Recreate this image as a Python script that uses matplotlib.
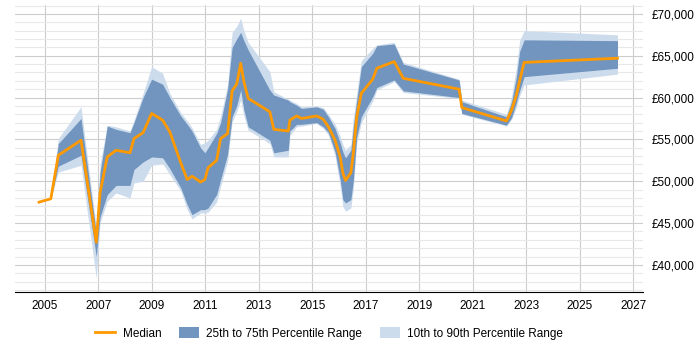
import numpy as np
import matplotlib.pyplot as plt
from matplotlib.ticker import MultipleLocator, FuncFormatter

plt.rcParams['font.family'] = ['Liberation Sans', 'DejaVu Sans']

# decimal year of each point
years = [2004.78, 2005.22, 2005.5, 2006.35, 2006.92, 2007.06, 2007.33, 2007.66, 2008.18, 2008.33,
         2008.67, 2008.99, 2009.4, 2009.67, 2010.08, 2010.32, 2010.5, 2010.82, 2010.98, 2011.1,
         2011.42, 2011.57, 2011.83, 2012.0, 2012.17, 2012.32, 2012.44, 2012.6, 2013.41, 2013.56,
         2014.1, 2014.16, 2014.41, 2014.6, 2015.16, 2015.41, 2015.6, 2015.85, 2016.04, 2016.14,
         2016.24, 2016.44, 2016.53, 2016.66, 2016.83, 2017.26, 2017.41, 2018.06, 2018.4, 2020.49,
         2020.59, 2022.26, 2022.45, 2022.63, 2022.75, 2022.92, 2026.41]

# salaries in thousands of pounds
median = [47.5, 47.9, 53.1, 54.9, 42.7, 48.6, 52.9, 53.7, 53.4, 55.1,
          55.8, 58.1, 57.3, 55.9, 52.2, 50.2, 50.6, 49.9, 50.2, 51.6,
          52.5, 55.1, 55.7, 60.8, 61.6, 64.1, 61.9, 59.9, 58.3, 56.2,
          56.0, 57.3, 57.8, 57.5, 57.8, 57.4, 56.5, 54.9, 52.9, 51.0,
          50.1, 51.0, 53.3, 57.7, 60.5, 62.2, 63.5, 64.3, 62.3, 61.0,
          58.8, 57.2, 58.5, 60.3, 62.0, 64.2, 64.7]
p25 = [47.5, 47.9, 51.8, 53.1, 41.0, 45.7, 48.4, 49.5, 49.5, 51.4,
       52.3, 52.9, 52.8, 51.5, 49.2, 47.2, 46.0, 46.6, 46.6, 46.8,
       48.4, 50.2, 53.2, 57.7, 59.0, 60.9, 58.5, 56.5, 54.9, 53.4,
       53.7, 56.0, 56.8, 56.8, 57.0, 56.5, 55.8, 53.5, 50.2, 47.8,
       47.4, 47.8, 50.0, 55.3, 57.7, 60.1, 61.2, 62.1, 60.8, 60.0,
       58.1, 56.7, 57.6, 59.4, 60.8, 62.5, 63.5]
p75 = [47.5, 47.9, 54.5, 57.5, 43.8, 51.0, 56.6, 56.2, 55.8, 57.0,
       60.0, 62.2, 61.6, 60.0, 57.8, 56.8, 56.0, 54.0, 53.4, 54.0,
       55.7, 57.0, 61.0, 66.0, 67.0, 67.8, 66.8, 65.7, 60.9, 60.3,
       59.7, 59.5, 59.1, 58.7, 58.9, 58.6, 57.7, 56.3, 54.6, 53.5,
       52.8, 53.7, 56.5, 59.7, 63.7, 65.3, 66.2, 66.4, 64.0, 62.1,
       59.5, 57.7, 59.5, 62.5, 65.5, 66.9, 66.8]
p10 = [47.5, 47.9, 51.1, 51.9, 38.4, 45.0, 47.6, 48.6, 48.0, 49.8,
       50.0, 51.9, 52.1, 50.8, 48.8, 46.6, 45.5, 46.2, 46.2, 46.3,
       47.5, 49.4, 52.4, 57.1, 58.3, 59.7, 57.8, 56.1, 54.5, 52.9,
       52.9, 55.5, 56.5, 56.6, 56.9, 56.3, 55.5, 53.0, 49.4, 47.0,
       46.4, 46.8, 49.0, 54.5, 57.0, 59.6, 60.9, 61.9, 60.6, 59.9,
       58.0, 56.6, 57.4, 58.8, 60.2, 61.5, 62.8]
p90 = [47.5, 47.9, 55.1, 58.9, 44.5, 52.0, 56.7, 56.5, 56.0, 57.3,
       60.5, 63.7, 62.9, 60.5, 58.2, 57.2, 56.4, 54.4, 54.6, 54.9,
       56.2, 57.8, 61.5, 67.8, 68.5, 69.5, 68.0, 66.6, 63.1, 60.7,
       59.8, 59.7, 59.3, 58.9, 59.0, 58.8, 58.0, 56.8, 55.4, 54.4,
       53.7, 54.4, 57.5, 60.5, 64.4, 65.9, 66.3, 66.6, 64.2, 62.2,
       59.7, 58.0, 60.2, 63.6, 66.8, 68.0, 67.5]

x = np.array(years)
k = 1000.0

fig = plt.figure(figsize=(7, 3.5), dpi=100)
ax = fig.add_axes([0.0214, 0.166, 0.897, 0.82])

ax.fill_between(x, np.array(p10) * k, np.array(p90) * k, color='#cddcec', lw=0,
                label='10th to 90th Percentile Range', zorder=2)
ax.fill_between(x, np.array(p25) * k, np.array(p75) * k, color='#7195bf', lw=0,
                label='25th to 75th Percentile Range', zorder=3)
ax.plot(x, np.array(median) * k, color='#ff9900', lw=2, label='Median', zorder=4)

ax.set_xlim(2003.88, 2027.36)
ax.set_ylim(36770, 71075)
ax.set_xticks(range(2005, 2028, 2))
ax.yaxis.set_major_locator(MultipleLocator(5000))
ax.yaxis.set_minor_locator(MultipleLocator(1000))
ax.yaxis.set_major_formatter(FuncFormatter(lambda v, p: f"£{int(v):,}"))
ax.yaxis.tick_right()

ax.grid(axis='y', which='major', color='#cccccc', lw=0.8, zorder=0)
ax.grid(axis='y', which='minor', color='#e8e8e8', lw=0.8, zorder=0)
ax.grid(axis='x', which='major', color='#cccccc', lw=0.8, zorder=0)
ax.set_axisbelow(True)

for s in ['top', 'left', 'right']:
    ax.spines[s].set_visible(False)
ax.spines['bottom'].set_color('black')
ax.tick_params(axis='y', which='both', length=0, labelsize=8.5, pad=6)
ax.tick_params(axis='x', length=0, labelsize=8.5, pad=6)

h, l = ax.get_legend_handles_labels()
order = [2, 1, 0]
fig.legend([h[i] for i in order], [l[i] for i in order], loc='center', bbox_to_anchor=(0.47, 0.047),
           ncol=3, frameon=False, fontsize=8.5, handlelength=1.7, handleheight=1.0,
           columnspacing=1.5, handletextpad=0.6)

plt.savefig("out.png", dpi=100)
